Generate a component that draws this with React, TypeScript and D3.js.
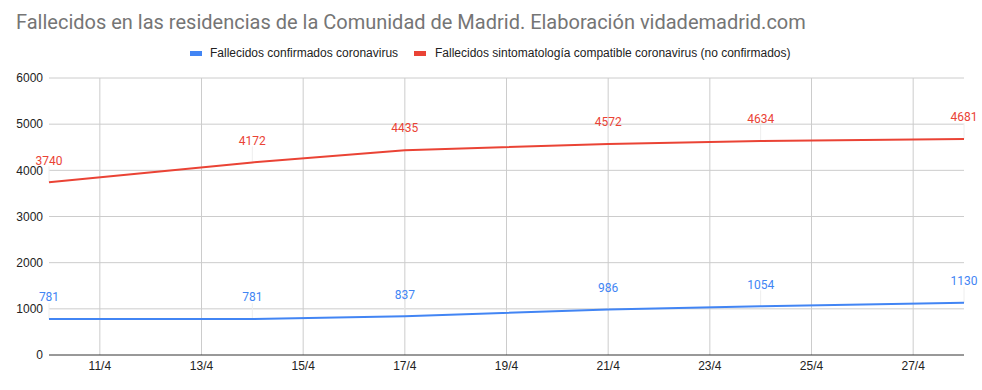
import React from 'react';
import * as d3 from 'd3';

// fechas (día del mes de abril 2020) y valores
const days = [10, 14, 17, 21, 24, 28];
const confirmed = [781, 781, 837, 986, 1054, 1130];
const compatible = [3740, 4172, 4435, 4572, 4634, 4681];
const xTicks = [11, 13, 15, 17, 19, 21, 23, 25, 27];
const yTicks = [0, 1000, 2000, 3000, 4000, 5000, 6000];

const seriesNames = [
  'Fallecidos confirmados coronavirus',
  'Fallecidos sintomatología compatible coronavirus (no confirmados)',
];
const colors = ['#4285f4', '#ea4335'];

const W = 982;
const H = 390;
const font = 'Roboto, Arial, sans-serif';
const arial = 'Arial, "Liberation Sans", sans-serif';

const App: React.FC = () => {
  const margin = { left: 49, right: 18, top: 78, bottom: 35 };
  const toDate = (d: number) => new Date(Date.UTC(2020, 3, d));

  const x = d3.scaleUtc()
    .domain([toDate(10), toDate(28)])
    .range([margin.left, W - margin.right]);
  const y = d3.scaleLinear()
    .domain([0, 6000])
    .range([H - margin.bottom, margin.top]);

  const line = d3.line<[number, number]>()
    .x(d => x(toDate(d[0])))
    .y(d => y(d[1]));

  const series = [confirmed, compatible].map(vals =>
    days.map((d, i) => [d, vals[i]] as [number, number]));

  return (
    <svg width={W} height={H} style={{ position: 'absolute', left: 0, top: 0, background: '#fff' }}
      fontFamily={font}>
      <text x={16} y={29} fontSize={20} fill="#757575">
        Fallecidos en las residencias de la Comunidad de Madrid. Elaboración vidademadrid.com
      </text>

      {/* leyenda */}
      <g fontSize={12} fill="#222" fontFamily={arial}>
        <rect x={190} y={51} width={12} height={5} fill={colors[0]} />
        <text x={210} y={57}>{seriesNames[0]}</text>
        <rect x={414} y={51} width={12} height={5} fill={colors[1]} />
        <text x={435} y={57}>{seriesNames[1]}</text>
      </g>

      {/* rejilla */}
      {yTicks.map(t => (
        <g key={t}>
          {t > 0 && <line x1={margin.left} x2={W - margin.right} y1={y(t)} y2={y(t)} stroke="#ccc" />}
          <text x={margin.left - 6} y={y(t)} dy="0.35em" textAnchor="end" fontSize={12} fill="#222"
            fontFamily={arial}>{t}</text>
        </g>
      ))}
      {xTicks.map(t => (
        <g key={t}>
          <line x1={x(toDate(t))} x2={x(toDate(t))} y1={margin.top} y2={H - margin.bottom} stroke="#ccc" />
          <text x={x(toDate(t))} y={H - margin.bottom + 15} textAnchor="middle" fontSize={12} fill="#222"
            fontFamily={arial}>{`${t}/4`}</text>
        </g>
      ))}
      <line x1={margin.left} x2={W - margin.right} y1={y(0)} y2={y(0)} stroke="#333" />

      {series.map((s, si) => (
        <g key={si}>
          {s.map(([d, v]) => (
            <line key={d} x1={x(toDate(d))} x2={x(toDate(d))} y1={y(v)} y2={y(v) - 16} stroke="#eee" />
          ))}
          <path d={line(s) || ''} fill="none" stroke={colors[si]} strokeWidth={2} />
          {s.map(([d, v]) => (
            <text key={d} x={x(toDate(d))} y={y(v) - 22} dy="0.35em" textAnchor="middle" fontSize={12}
              fill={colors[si]}>{v}</text>
          ))}
        </g>
      ))}
    </svg>
  );
};

export default App;
